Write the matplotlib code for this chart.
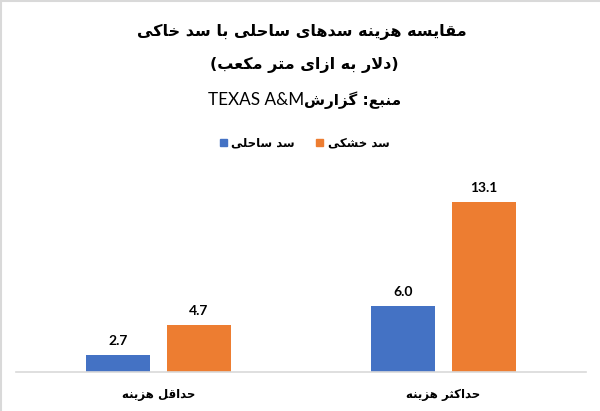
import matplotlib
matplotlib.use('Agg')
import matplotlib.pyplot as plt
from matplotlib.lines import Line2D
from matplotlib.patches import Patch
import numpy as np

# ── Data ───────────────────────────────────────────────────────────────────────
categories = ['حداقل هزینه', 'حداکثر هزینه']
coastal = [2.7, 6.0]      # سد ساحلی
onshore = [4.7, 13.1]     # سد خشکی
series_names = ['سد ساحلی', 'سد خشکی']
title_1 = 'مقایسه هزینه سدهای ساحلی با سد خاکی'
title_2 = 'دلار به ازای متر مکعب'
source_fa = 'منبع: گزارش'
source_en = 'TEXAS A&M'

# ── Minimal Persian shaping (matplotlib has no bidi / joining) ────────────────
# (isolated, final, initial, medial); None = letter joins only to the right
FORMS = {
    'ا': ('\uFE8D', '\uFE8E', None, None),
    'ب': ('\uFE8F', '\uFE90', '\uFE91', '\uFE92'),
    'ت': ('\uFE95', '\uFE96', '\uFE97', '\uFE98'),
    'ث': ('\uFE99', '\uFE9A', '\uFE9B', '\uFE9C'),
    'ح': ('\uFEA1', '\uFEA2', '\uFEA3', '\uFEA4'),
    'خ': ('\uFEA5', '\uFEA6', '\uFEA7', '\uFEA8'),
    'د': ('\uFEA9', '\uFEAA', None, None),
    'ر': ('\uFEAD', '\uFEAE', None, None),
    'ز': ('\uFEAF', '\uFEB0', None, None),
    'س': ('\uFEB1', '\uFEB2', '\uFEB3', '\uFEB4'),
    'ش': ('\uFEB5', '\uFEB6', '\uFEB7', '\uFEB8'),
    'ع': ('\uFEC9', '\uFECA', '\uFECB', '\uFECC'),
    'ق': ('\uFED5', '\uFED6', '\uFED7', '\uFED8'),
    'ل': ('\uFEDD', '\uFEDE', '\uFEDF', '\uFEE0'),
    'م': ('\uFEE1', '\uFEE2', '\uFEE3', '\uFEE4'),
    'ن': ('\uFEE5', '\uFEE6', '\uFEE7', '\uFEE8'),
    'ه': ('\uFEE9', '\uFEEA', '\uFEEB', '\uFEEC'),
    'ی': ('\uFBFC', '\uFBFD', '\uFBFE', '\uFBFF'),
    'ک': ('\uFB8E', '\uFB8F', '\uFB90', '\uFB91'),
    'گ': ('\uFB92', '\uFB93', '\uFB94', '\uFB95'),
    'LA': ('\uFEFB', '\uFEFC', None, None),
}


def fa(text):
    tokens, i = [], 0
    while i < len(text):
        if text[i] == 'ل' and i + 1 < len(text) and text[i + 1] == 'ا':
            tokens.append('LA')
            i += 2
        else:
            tokens.append(text[i])
            i += 1

    def joins_next(t):
        return t in FORMS and FORMS[t][2] is not None

    out = []
    for k, t in enumerate(tokens):
        if t not in FORMS:
            out.append(t)
            continue
        p = k > 0 and joins_next(tokens[k - 1])
        n = joins_next(t) and k + 1 < len(tokens) and tokens[k + 1] in FORMS
        iso, fin, ini, med = FORMS[t]
        out.append(med if (p and n) else fin if p else ini if n else iso)
    return ''.join(reversed(out))


# ── Figure ─────────────────────────────────────────────────────────────────────
plt.rcParams['font.family'] = ['DejaVu Sans']
blue, orange = '#4472C4', '#ED7D31'

fig = plt.figure(figsize=(6, 4.11), dpi=100)
ax = fig.add_axes([16 / 600, 38.7 / 411, 570 / 600, 207.3 / 411])

x = np.arange(len(categories))
w, off = 0.225, 0.142
b1 = ax.bar(x - off, coastal, w, bottom=0, color=blue, zorder=2)
b2 = ax.bar(x + off, onshore, w, bottom=0, color=orange, zorder=2)

for bars, vals in ((b1, coastal), (b2, onshore)):
    for rect, v in zip(bars, vals):
        ax.annotate(f'{v:.1f}', (rect.get_x() + rect.get_width() / 2, v),
                    xytext=(0, 10), textcoords='offset points',
                    ha='center', va='center', fontsize=10, family='Lato',
                    fontweight='bold', color='#000000')

ax.set_xlim(-0.5, 1.5)
ax.set_ylim(1.5, 15.6)
ax.set_yticks([])
ax.set_xticks(x)
ax.set_xticklabels([fa(c) for c in categories], fontsize=8.5,
                   fontweight='bold')
ax.tick_params(axis='x', length=0, pad=11)
for s in ('top', 'right', 'left'):
    ax.spines[s].set_visible(False)
ax.spines['bottom'].set_color('#D9D9D9')
ax.spines['bottom'].set_linewidth(1.2)
ax.spines['bottom'].set_zorder(3)

# ── Titles ─────────────────────────────────────────────────────────────────────
fig.text(0.503, 1 - 32 / 411, fa(title_1), ha='center', va='center',
         fontsize=11.5, fontweight='bold')
fig.text(0.507, 1 - 65 / 411, '(' + fa(title_2) + ')', ha='center',
         va='center', fontsize=11.5, fontweight='bold')
fig.text(304 / 600, 1 - 100 / 411, source_en, ha='right', va='center',
         fontsize=12.3, family='Lato')
fig.text(304 / 600, 1 - 100 / 411, fa(source_fa), ha='left', va='center',
         fontsize=11, fontweight='bold')

# ── Legend ─────────────────────────────────────────────────────────────────────
handles = [Patch(color=blue, label=fa(series_names[0])),
           Patch(color=orange, label=fa(series_names[1]))]
fig.legend(handles=handles, loc='center', bbox_to_anchor=(0.508, 1 - 143 / 411),
           ncol=2, frameon=False, handlelength=0.6, handleheight=0.6,
           handletextpad=0.4, columnspacing=1.8,
           prop={'size': 8.5, 'weight': 'bold'})

# light frame (top and left edges visible in the crop)
fig.add_artist(Line2D([0, 1], [0.998, 0.998], transform=fig.transFigure,
                      color='#D9D9D9', lw=1.5))
fig.add_artist(Line2D([0.002, 0.002], [0, 1], transform=fig.transFigure,
                      color='#D9D9D9', lw=1.5))

fig.savefig('out.png', dpi=100)
plt.close(fig)
